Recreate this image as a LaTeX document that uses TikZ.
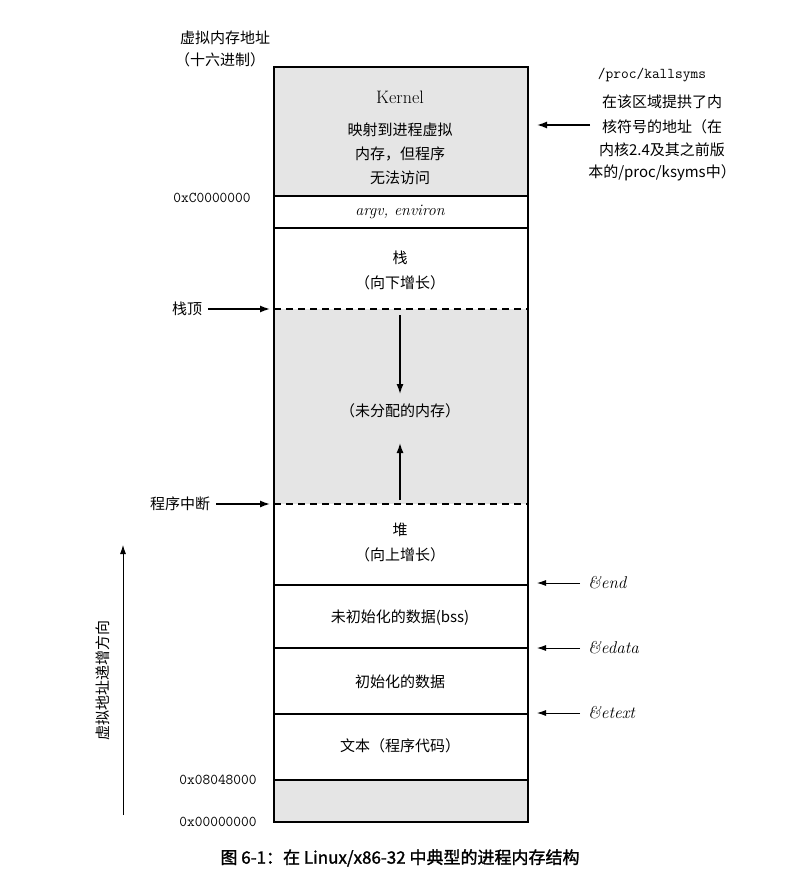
\documentclass[tikz,border=0pt]{standalone}
\usepackage{fontspec}
\usetikzlibrary{arrows.meta}
\newfontfamily\cjk{Noto Sans CJK SC}
\newfontfamily\cjkb[FakeBold=1.5]{Noto Sans CJK SC}
\begin{document}
\begin{tikzpicture}[x=1pt,y=-1pt,
  lab/.style={font=\cjk\fontsize{15}{17}\selectfont,inner sep=0pt},
  mono/.style={font=\ttfamily\fontsize{15}{17}\selectfont,inner sep=0pt},
  ptr/.style={-{Latex[length=10pt,width=7pt]},line width=1.4pt},
  thinptr/.style={-{Latex[length=9pt,width=6pt]},line width=0.8pt},
  box/.style={line width=1.2pt}]
\useasboundingbox (0,0) rectangle (797,882);
\fill[black!10] (274,67) rectangle (528,196);
\fill[black!10] (274,309) rectangle (528,504);
\fill[black!10] (274,780) rectangle (528,822);
\draw[box] (274,67) rectangle (528,822);
\foreach \y in {196,228,585,648,714,780} \draw[box] (274,\y) -- (528,\y);
\draw[box,dash pattern=on 7pt off 5pt] (274,309) -- (528,309);
\draw[box,dash pattern=on 7pt off 5pt] (274,504) -- (528,504);
\node[lab] (k) at (400,97) {\rmfamily\fontsize{18}{20}\selectfont Kernel};
\node[lab] at (400,130) {映射到进程虚拟};
\node[lab] at (400,154) {内存，但程序};
\node[lab] at (400,178) {无法访问};
\node[lab] at (400,212) {\rmfamily\itshape\fontsize{16}{18}\selectfont argv, environ};
\node[lab] at (400,258) {栈};
\node[lab] at (400,283) {（向下增长）};
\coordinate (d1) at (400,315); \coordinate (d2) at (400,394);
\draw[ptr] (d1) -- (d2);
\node[lab] at (400,411) {（未分配的内存）};
\coordinate (u1) at (400,500); \coordinate (u2) at (400,443);
\draw[ptr] (u1) -- (u2);
\node[lab] at (400,530) {堆};
\node[lab] at (400,555) {（向上增长）};
\node[lab] at (400,618) {未初始化的数据(bss)};
\node[lab] at (400,682) {初始化的数据};
\node[lab] at (400,746) {文本（程序代码）};
\node[lab] at (225,38) {虚拟内存地址};
\node[lab] at (220,60) {（十六进制）};
\node[mono] at (212,198) {0xC0000000};
\node[mono] at (218,780) {0x08048000};
\node[mono] at (218,822) {0x00000000};
\node[lab] (st) at (187,309) {栈顶};
\coordinate (st2) at (270,309);
\draw[ptr] ([xshift=6pt]st.east) -- (st2);
\node[lab] (br) at (180,504) {程序中断};
\coordinate (br2) at (270,504);
\draw[ptr] ([xshift=6pt]br.east) -- (br2);
\coordinate (v1) at (123,815); \coordinate (v2) at (123,545);
\draw[thinptr] (v1) -- (v2);
\node[lab,rotate=90] at (103,680) {虚拟地址递增方向};
\node[mono] at (652,75) {/proc/kallsyms};
\node[lab] at (662,102) {在该区域提拱了内};
\node[lab] at (662,127) {核符号的地址（在};
\node[lab] at (662,150) {内核2.4及其之前版};
\node[lab] at (662,173) {本的/proc/ksyms中）};
\coordinate (r1) at (590,125); \coordinate (r2) at (537,125);
\draw[ptr] (r1) -- (r2);
\foreach \y/\t in {583/end,648/edata,713/etext}{
  \draw[thinptr] (580,\y) -- (537,\y);
  \node[lab,anchor=west] at (588,\y) {\rmfamily\itshape\fontsize{17}{19}\selectfont \&\t};
}
\node[lab] at (400,858) {\cjkb\fontsize{17}{19}\selectfont 图 6-1：在 Linux/x86-32 中典型的进程内存结构};
\end{tikzpicture}
\end{document}
